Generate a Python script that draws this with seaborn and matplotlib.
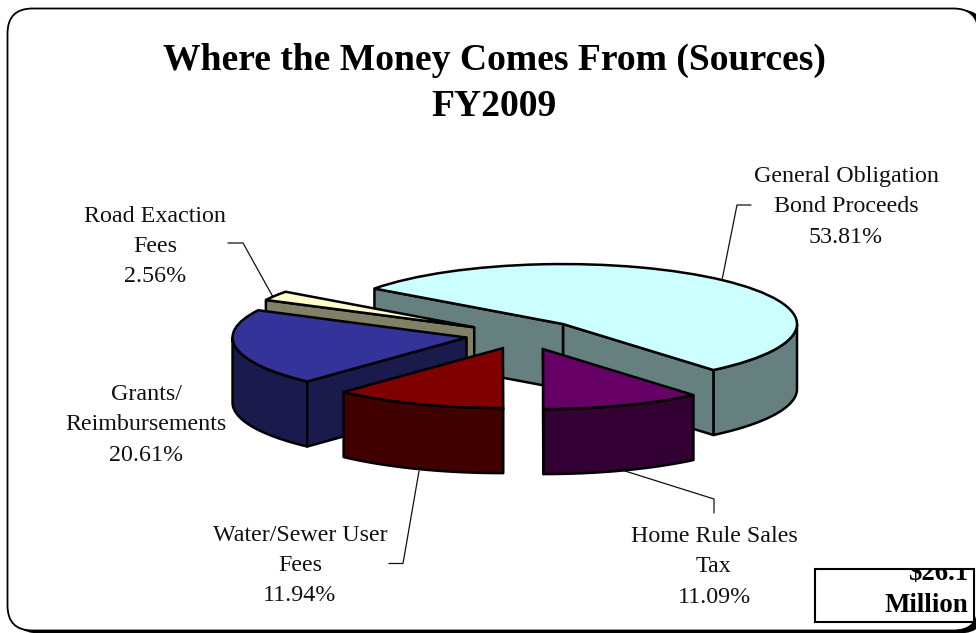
import numpy as np
import matplotlib
matplotlib.use("Agg")
import matplotlib.pyplot as plt
from matplotlib.patches import FancyBboxPatch, Rectangle
import seaborn as sns

# data, in the order the slices run counterclockwise
categories = ["General Obligation\nBond Proceeds", "Road Exaction\nFees", "Grants/\nReimbursements",
              "Water/Sewer User\nFees", "Home Rule Sales\nTax"]
shares = [53.81, 2.56, 20.61, 11.94, 11.09]
top_colors = ["#CCFFFF", "#FFFFCC", "#333399", "#800000", "#660066"]
wall_colors = ["#668080", "#808066", "#1A1A4D", "#400000", "#330033"]
title_lines = "Where the Money Comes From (Sources)\nFY2009"
total_lines = ["$26.1", "Million"]

sns.set_theme(style="white")
plt.rcParams["font.family"] = ["Liberation Serif", "DejaVu Serif"]

W, H = 976, 633
fig = plt.figure(figsize=(W / 100, H / 100), dpi=100)

# pixel axes for frame, text and leader lines
bg = fig.add_axes([0, 0, 1, 1], zorder=0)
bg.set_xlim(0, W)
bg.set_ylim(H, 0)
bg.axis("off")

# rounded frame with a small shadow toward the lower right
rad = 25
for dx, dy, col in [(6, 2, "black"), (0, 0, "white")]:
    bg.add_patch(FancyBboxPatch((7.5 + rad + dx, 8.5 + rad + dy), 978.5 - 7.5 - 2 * rad, 630.5 - 8.5 - 2 * rad,
                                boxstyle=f"round,pad={rad},rounding_size={rad}",
                                fc=col, ec="black", lw=1.3, clip_on=True))

bg.text(494, 83.5, title_lines, ha="center", va="center", fontsize=27.1, fontweight="bold",
        color="black", linespacing=1.42)

label_pos = [(846, 207), (155, 246.5), (146, 425), (300, 565.5), (714, 567)]
for name, val, (x, y) in zip(categories, shares, label_pos):
    bg.text(x, y, f"{name}\n{val:.2f}%", ha="center", va="center", fontsize=17.3,
            color="#111111", linespacing=1.58)

leaders = [([751, 737, 722], [205, 205, 280]),
           ([228, 243, 273], [243, 243, 297]),
           ([389, 403, 419], [563.5, 563.5, 471]),
           ([625, 714, 714], [471, 499, 513])]
for xs, ys in leaders:
    bg.plot(xs, ys, color="#111111", lw=0.9)

box = Rectangle((814.5, 569), 159.5, 53, fc="white", ec="black", lw=1.5, zorder=3)
bg.add_patch(box)
for line, y in zip(total_lines, [573, 605]):
    t = bg.text(968, y, line, ha="right", va="center", fontsize=19.4, fontweight="bold",
                color="black", zorder=4, clip_on=True)
    t.set_clip_path(box)

# pie axes: one unit is the pie radius, squashed by the tilt
cx, cy, rx, ry, depth = 523, 335, 234, 60, 65 / 60
ax = fig.add_axes([0, 0, 1, 1], zorder=1)
ax.patch.set_alpha(0)
wedges, _ = ax.pie(shares, explode=[0.25, 0.245, 0.245, 0.235, 0.25], startangle=-50, counterclock=True,
                   colors=sns.color_palette(top_colors), frame=True,
                   wedgeprops=dict(edgecolor="black", linewidth=1.8))
ax.set_aspect("auto")
ax.set_xlim((0 - cx) / rx, (W - cx) / rx)
ax.set_ylim((cy - H) / ry, cy / ry)
ax.axis("off")


def draw_wall(xs, ys, color, z):
    # extrude a top outline straight down into a closed face
    xs, ys = np.asarray(xs), np.asarray(ys)
    ax.fill(np.r_[xs, xs[::-1]], np.r_[ys, ys[::-1] - depth], fc=color, ec="black", lw=1.8,
            joinstyle="round", zorder=z)


for i, (w, col) in enumerate(zip(wedges, wall_colors)):
    x0, y0 = w.center
    a1, a2 = np.radians(w.theta1), np.radians(w.theta2)
    z = 2 + i
    if i == 3:  # water sits in front of home rule
        z = 2 + 4
    elif i == 4:
        z = 2 + 3
    # front part of the rim
    ang = np.linspace(a1, a2, 200)
    front = ang[np.sin(ang) <= 0]
    if len(front) > 1:
        draw_wall(x0 + np.cos(front), y0 + np.sin(front), col, z)
    # cut faces that turn toward the viewer
    for a, vis in [(a1, np.cos(a1) > 1e-6), (a2, np.cos(a2) < -1e-6)]:
        if vis:
            draw_wall([x0, x0 + np.cos(a)], [y0, y0 + np.sin(a)], col, z)
    w.set_zorder(z + 0.5)

fig.savefig("out.png", dpi=100)
